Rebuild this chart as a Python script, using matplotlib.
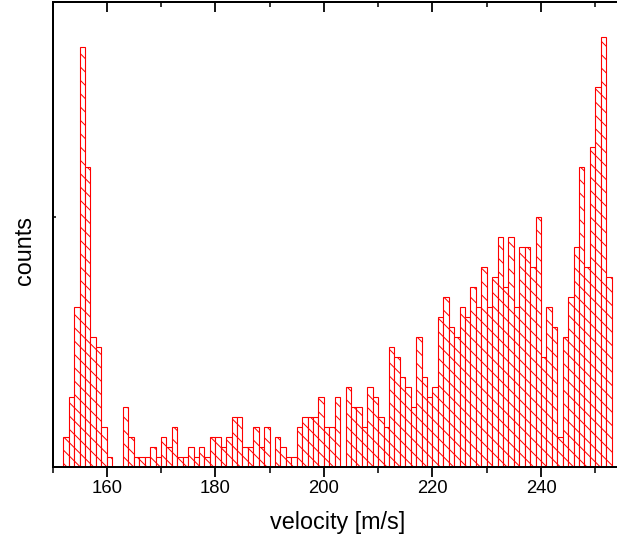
import numpy as np
import matplotlib
matplotlib.use("Agg")
import matplotlib.pyplot as plt
from matplotlib.ticker import MultipleLocator

plt.rcParams["font.family"] = ["Liberation Sans", "DejaVu Sans"]
plt.rcParams["hatch.linewidth"] = 0.9

# histogram: 1 m/s bins starting at 152 m/s
bin_start = 152
bin_width = 1
counts = [3, 7, 16, 42, 30, 13, 12, 4, 1, 0,       # 152-161
          0, 6, 3, 1, 1, 1, 2, 1, 3, 2,            # 162-171
          4, 1, 1, 2, 1, 2, 1, 3, 3, 2,            # 172-181
          3, 5, 5, 2, 2, 4, 2, 4, 0, 3,            # 182-191
          2, 1, 1, 4, 5, 5, 5, 7, 4, 4,            # 192-201
          7, 0, 8, 6, 6, 4, 8, 7, 5, 4,            # 202-211
          12, 11, 9, 8, 6, 13, 9, 7, 8, 15,        # 212-221
          17, 14, 13, 16, 15, 18, 16, 20, 16, 19,  # 222-231
          23, 18, 23, 16, 22, 22, 20, 25, 11, 16,  # 232-241
          14, 3, 13, 17, 22, 30, 20, 32, 38, 43,   # 242-251
          19]                                      # 252

x_major = [160, 180, 200, 220, 240]
y_ticks = [0, 25]

edges = bin_start + bin_width * np.arange(len(counts))

# dpi 80 so the hatch spacing comes out close to the original
DPI = 80
fig = plt.figure(figsize=(617 / DPI, 546 / DPI), dpi=DPI)
ax = fig.add_axes([52.5 / 617, 1 - 466.7 / 546, 1 - 52.5 / 617, (466.7 - 1.7) / 546])

ax.bar(edges, counts, width=bin_width, align="edge", facecolor="white",
       edgecolor="#ff0000", hatch="\\\\", linewidth=1.0)

ax.set_xlim(150, 254)
ax.set_ylim(0, 46.5)

ax.set_xticks(x_major)
ax.xaxis.set_minor_locator(MultipleLocator(10))
ax.set_yticks(y_ticks)
ax.set_yticklabels([])

ax.tick_params(axis="x", which="major", direction="out", length=9, width=1.6,
               labelsize=16.7, pad=3, top=False)
ax.tick_params(axis="x", which="minor", direction="out", length=5, width=1.4, top=False)
ax.tick_params(axis="y", which="major", direction="in", length=2.7, width=1.4, right=False)

# top axis: inward ticks, no labels
top = ax.secondary_xaxis("top")
top.set_xticks(x_major)
top.xaxis.set_minor_locator(MultipleLocator(10))
top.tick_params(which="major", direction="in", length=9, width=1.6, labeltop=False)
top.tick_params(which="minor", direction="in", length=4.5, width=1.4)
top.spines["top"].set_linewidth(1.8)

for side in ["left", "bottom", "top"]:
    ax.spines[side].set_linewidth(1.8)
ax.spines["right"].set_visible(False)

ax.set_xlabel("velocity [m/s]", fontsize=21)
ax.set_ylabel("counts", fontsize=21)
ax.xaxis.label.set_va("center")
ax.yaxis.label.set_va("center")
ax.xaxis.set_label_coords(0.505, -0.121)
ax.yaxis.set_label_coords(-0.049, 0.466)

fig.savefig("out.png", dpi=DPI)
